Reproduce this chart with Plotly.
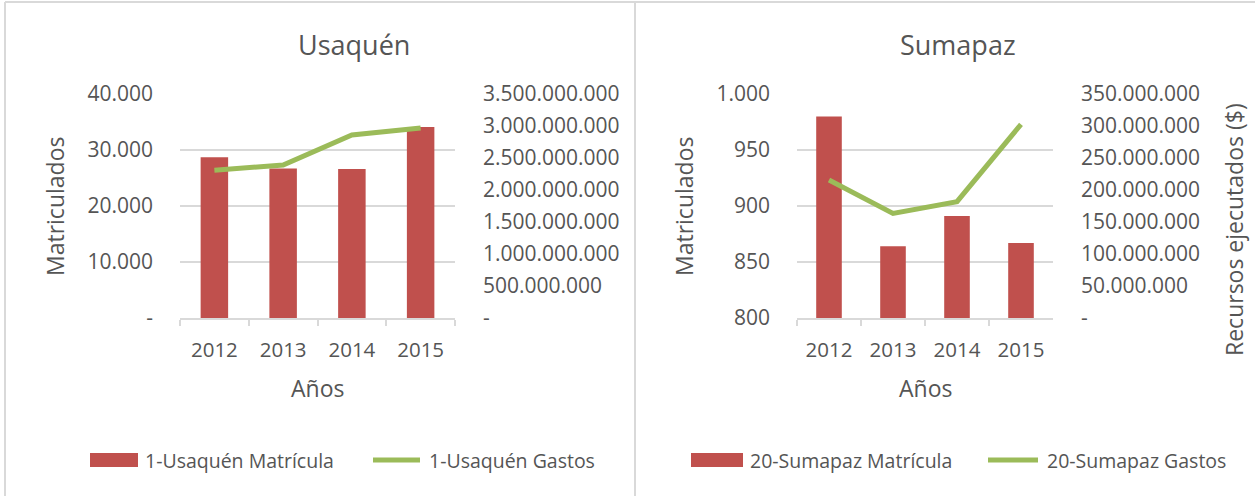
import plotly.graph_objects as go

# ---------------- data ----------------
years = ["2012", "2013", "2014", "2015"]

usaquen_matricula = [28700, 26700, 26600, 34100]
usaquen_gastos = [2.31e9, 2.39e9, 2.86e9, 2.97e9]

sumapaz_matricula = [980, 864, 891, 867]
sumapaz_gastos = [215.6e6, 163.5e6, 181.7e6, 302.6e6]

usaquen_left_vals = [0, 10000, 20000, 30000, 40000]
usaquen_left_text = ["-", "10.000", "20.000", "30.000", "40.000"]
usaquen_right_vals = [0, 5e8, 1e9, 1.5e9, 2e9, 2.5e9, 3e9, 3.5e9]
usaquen_right_text = ["-", "500.000.000", "1.000.000.000", "1.500.000.000",
                      "2.000.000.000", "2.500.000.000", "3.000.000.000", "3.500.000.000"]

sumapaz_left_vals = [800, 850, 900, 950, 1000]
sumapaz_left_text = ["800", "850", "900", "950", "1.000"]
sumapaz_right_vals = [0, 50e6, 100e6, 150e6, 200e6, 250e6, 300e6, 350e6]
sumapaz_right_text = ["-", "50.000.000", "100.000.000", "150.000.000",
                      "200.000.000", "250.000.000", "300.000.000", "350.000.000"]

titles = ["Usaquén", "Sumapaz"]
legend_labels = [["1-Usaquén Matrícula", "1-Usaquén Gastos"],
                 ["20-Sumapaz Matrícula", "20-Sumapaz Gastos"]]

# ---------------- style ----------------
W, H = 1255, 496
RED = "#C0504D"
GREEN = "#9BBB59"
TXT = "#555555"
GRID = "#D9D9D9"
FONT = "Open Sans"


def px(x):
    return x / W


def py(y):
    return 1 - y / H


fig = go.Figure()

fig.add_trace(go.Bar(x=years, y=usaquen_matricula, name=legend_labels[0][0],
                     marker=dict(color=RED, line=dict(width=0)), width=0.4,
                     xaxis="x", yaxis="y", showlegend=False))
fig.add_trace(go.Scatter(x=years, y=usaquen_gastos, name=legend_labels[0][1], mode="lines",
                         line=dict(color=GREEN, width=5), xaxis="x", yaxis="y2",
                         showlegend=False))
fig.add_trace(go.Bar(x=years, y=sumapaz_matricula, name=legend_labels[1][0],
                     marker=dict(color=RED, line=dict(width=0)), width=0.4,
                     xaxis="x2", yaxis="y3", showlegend=False))
fig.add_trace(go.Scatter(x=years, y=sumapaz_gastos, name=legend_labels[1][1], mode="lines",
                         line=dict(color=GREEN, width=5), xaxis="x2", yaxis="y4",
                         showlegend=False))

ydom = [py(318), py(94)]
xdom1 = [px(180), px(455)]
xdom2 = [px(797), px(1053)]

tickfont = dict(family=FONT, size=21, color=TXT)
xtickfont = dict(family=FONT, size=20.5, color=TXT)

xcommon = dict(type="category", range=[-0.5, 3.5], showline=True, linecolor=GRID, linewidth=2,
               ticks="outside", tickson="boundaries", ticklen=6, tickcolor=GRID, tickwidth=2,
               showgrid=False, zeroline=False, tickfont=xtickfont, ticklabelstandoff=12,
               fixedrange=True, automargin=False)
ycommon = dict(zeroline=False, ticks="", tickfont=tickfont, automargin=False, fixedrange=True)

fig.update_layout(
    width=W, height=H, autosize=False,
    margin=dict(l=0, r=0, t=0, b=0, pad=0, autoexpand=False),
    paper_bgcolor="white", plot_bgcolor="white",
    showlegend=False,
    bargap=0.6,
    xaxis=dict(domain=xdom1, anchor="y", **xcommon),
    xaxis2=dict(domain=xdom2, anchor="y3", **xcommon),
    yaxis=dict(domain=ydom, anchor="x", range=[0, 40000], tickvals=usaquen_left_vals,
               ticktext=usaquen_left_text, showgrid=True, gridcolor=GRID, gridwidth=2,
               ticklabelstandoff=26, **ycommon),
    yaxis2=dict(domain=ydom, anchor="x", overlaying="y", side="right", range=[0, 3.5e9],
                tickvals=usaquen_right_vals, ticktext=usaquen_right_text, showgrid=False,
                ticklabelstandoff=27, **ycommon),
    yaxis3=dict(domain=ydom, anchor="x2", range=[800, 1000], tickvals=sumapaz_left_vals,
                ticktext=sumapaz_left_text, showgrid=True, gridcolor=GRID, gridwidth=2,
                ticklabelstandoff=26, **ycommon),
    yaxis4=dict(domain=ydom, anchor="x2", overlaying="y3", side="right", range=[0, 350e6],
                tickvals=sumapaz_right_vals, ticktext=sumapaz_right_text, showgrid=False,
                ticklabelstandoff=27, **ycommon),
)

ann = []


def text(x, y, s, size, angle=0, xanchor="center"):
    ann.append(dict(x=px(x), y=py(y), xref="paper", yref="paper", text=s, showarrow=False,
                    xanchor=xanchor, yanchor="middle", textangle=angle,
                    font=dict(family=FONT, size=size, color=TXT)))


# chart titles
text(354, 44, titles[0], 27)
text(958, 44, titles[1], 27)
# axis titles
text(317, 388, "Años", 23)
text(925, 388, "Años", 23)
text(55, 207, "Matriculados", 23, angle=-90)
text(684, 207, "Matriculados", 23, angle=-90)
text(1234, 230, "Recursos ejecutados ($)", 23, angle=-90)
# legend texts
text(143, 460, legend_labels[0][0], 19.5, xanchor="left")
text(427, 460, legend_labels[0][1], 19.5, xanchor="left")
text(748, 460, legend_labels[1][0], 19.5, xanchor="left")
text(1045, 460, legend_labels[1][1], 19.5, xanchor="left")
fig.update_layout(annotations=ann)

shapes = []
# legend symbols
for x0, x1 in [(90, 138), (691, 743)]:
    shapes.append(dict(type="rect", xref="paper", yref="paper", x0=px(x0), x1=px(x1),
                       y0=py(467), y1=py(453), fillcolor=RED, line=dict(width=0)))
for x0, x1 in [(373, 420), (988, 1038)]:
    shapes.append(dict(type="line", xref="paper", yref="paper", x0=px(x0), x1=px(x1),
                       y0=py(460), y1=py(460), line=dict(color=GREEN, width=5)))
# chart frames
shapes.append(dict(type="line", xref="paper", yref="paper", x0=px(5), x1=1, y0=py(2), y1=py(2),
                   line=dict(color=GRID, width=2)))
shapes.append(dict(type="line", xref="paper", yref="paper", x0=px(5), x1=px(5), y0=py(2), y1=0,
                   line=dict(color=GRID, width=2)))
shapes.append(dict(type="line", xref="paper", yref="paper", x0=px(635), x1=px(635), y0=py(2), y1=0,
                   line=dict(color=GRID, width=2)))
fig.update_layout(shapes=shapes)

fig.write_html("out.html", config={"displayModeBar": False, "responsive": False},
               post_script="document.body.style.margin='0';document.body.style.overflow='hidden';")
